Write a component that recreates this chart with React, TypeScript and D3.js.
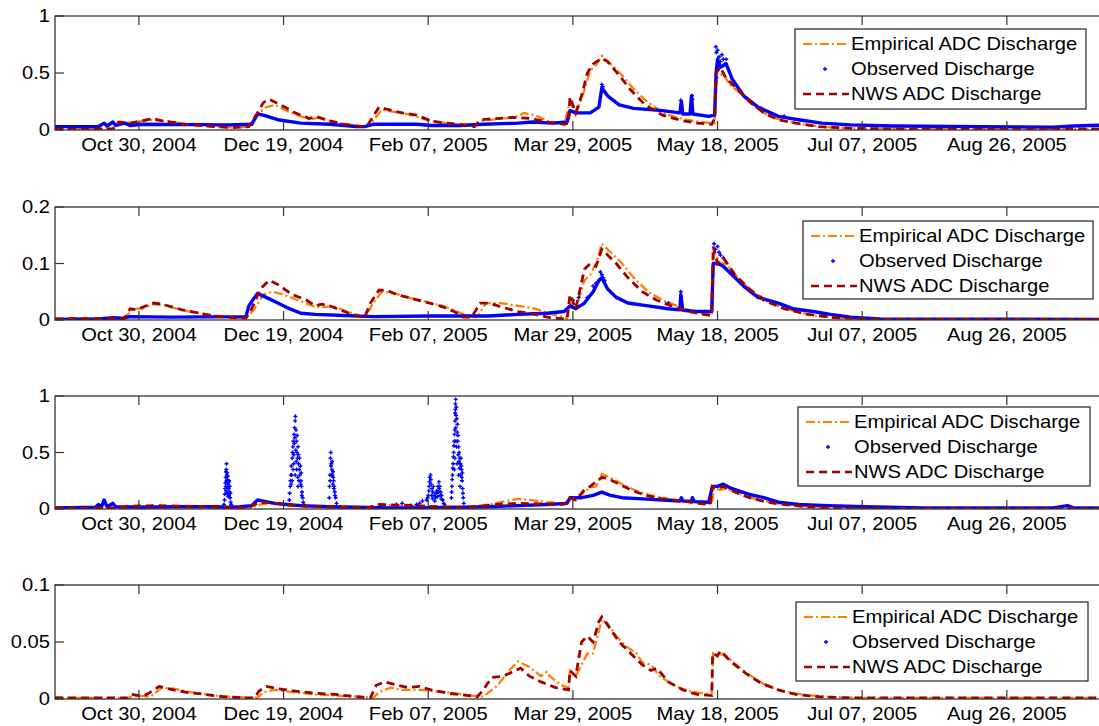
import React from "react";
import * as d3 from "d3";

type Pt = [number, number];

// Day offsets are counted from Oct 1, 2004 (start of the water year).
const START = new Date(2004, 9, 1);
const END = new Date(2005, 9, 1);
const dayToDate = (d: number) => new Date(START.getTime() + d * 864e5);

const tickDates = [
  new Date(2004, 9, 30),
  new Date(2004, 11, 19),
  new Date(2005, 1, 7),
  new Date(2005, 2, 29),
  new Date(2005, 4, 18),
  new Date(2005, 6, 7),
  new Date(2005, 7, 26),
];

const legendLabels = ["Empirical ADC Discharge", "Observed Discharge", "NWS ADC Discharge"];

// ---------- Panel 1 ----------
const yTicks1 = [0, 0.5, 1];
const empirical1: Pt[] = [[0,0.01],[20,0.01],[23,0.06],[28,0.07],[33,0.09],[38,0.08],[46,0.05],[56,0.03],[62,0.02],[67,0.03],[70,0.14],[73,0.2],[76,0.22],[80,0.17],[85,0.12],[88,0.09],[91,0.11],[96,0.07],[101,0.05],[107,0.03],[109,0.05],[113,0.18],[117,0.16],[122,0.14],[127,0.1],[132,0.07],[138,0.05],[145,0.03],[148,0.08],[155,0.1],[160,0.12],[162,0.15],[166,0.13],[170,0.08],[176,0.05],[178,0.25],[180,0.14],[183,0.35],[185,0.52],[187,0.57],[189,0.65],[192,0.58],[196,0.48],[200,0.36],[205,0.24],[211,0.14],[218,0.09],[223,0.07],[228,0.06],[228.7,0.45],[231,0.5],[233,0.4],[237,0.32],[242,0.2],[247,0.12],[252,0.08],[258,0.05],[266,0.025],[280,0.012],[300,0.008],[366,0.008]];
const observed1: Pt[] = [[0,0.03],[15,0.03],[17,0.06],[18,0.035],[20,0.07],[21,0.04],[24,0.06],[26,0.04],[30,0.05],[60,0.045],[68,0.05],[70,0.14],[72,0.13],[77,0.09],[85,0.06],[95,0.05],[100,0.04],[104,0.03],[107,0.03],[110,0.05],[125,0.05],[130,0.04],[140,0.04],[148,0.05],[160,0.06],[165,0.07],[172,0.06],[177,0.07],[178,0.17],[180,0.15],[185,0.15],[188,0.2],[189,0.37],[191,0.3],[195,0.22],[200,0.19],[210,0.17],[216,0.15],[216.5,0.25],[217,0.14],[219.5,0.14],[220,0.3],[220.5,0.14],[226,0.12],[228,0.13],[228.5,0.5],[229,0.62],[230,0.55],[232,0.58],[234,0.45],[238,0.3],[243,0.2],[250,0.12],[257,0.09],[265,0.06],[275,0.045],[290,0.035],[320,0.03],[345,0.025],[352,0.035],[366,0.045]];
const observedDots1: Pt[] = [[228.4,0.73],[228.6,0.68],[229,0.7],[229.5,0.64],[230,0.6],[230.5,0.66],[231,0.62],[231.5,0.58],[232,0.62],[216.3,0.26],[216.4,0.22],[220.2,0.3],[220.3,0.27],[189,0.4],[189.3,0.38],[244,0.19],[252,0.12]];
const nws1: Pt[] = [[0,0.01],[20,0.01],[22,0.07],[26,0.06],[30,0.08],[34,0.1],[37,0.08],[45,0.05],[55,0.03],[61,0.02],[67,0.03],[70,0.15],[72,0.24],[74,0.27],[78,0.22],[83,0.15],[88,0.1],[90,0.12],[95,0.08],[100,0.05],[106,0.03],[108,0.04],[112,0.2],[115,0.18],[120,0.15],[125,0.13],[130,0.08],[135,0.06],[140,0.05],[145,0.03],[147,0.09],[152,0.1],[158,0.11],[165,0.1],[170,0.07],[176,0.05],[177.5,0.06],[178,0.29],[180,0.15],[182,0.3],[184,0.5],[186,0.58],[189,0.63],[191,0.6],[195,0.48],[199,0.35],[204,0.22],[210,0.13],[217,0.08],[222,0.06],[227,0.05],[228,0.1],[228.5,0.5],[230,0.55],[232,0.45],[235,0.38],[240,0.25],[245,0.15],[250,0.09],[256,0.06],[264,0.03],[275,0.015],[290,0.01],[366,0.01]];

// ---------- Panel 2 ----------
const yTicks2 = [0, 0.1, 0.2];
const empirical2: Pt[] = [[0,0.002],[24,0.003],[27,0.02],[30,0.02],[34,0.028],[38,0.026],[45,0.016],[52,0.01],[58,0.006],[66,0.003],[69,0.02],[72,0.045],[75,0.05],[79,0.045],[84,0.035],[89,0.025],[92,0.022],[96,0.025],[101,0.015],[107,0.004],[110,0.03],[113,0.05],[117,0.048],[122,0.04],[128,0.033],[134,0.025],[139,0.015],[143,0.006],[146,0.006],[149,0.03],[154,0.03],[160,0.025],[166,0.02],[172,0.01],[177,0.003],[178,0.03],[180,0.02],[183,0.07],[185,0.08],[187,0.1],[189,0.135],[192,0.12],[196,0.1],[200,0.075],[205,0.05],[210,0.035],[215,0.025],[221,0.015],[227,0.008],[227.8,0.12],[230,0.1],[232,0.1],[236,0.075],[241,0.05],[247,0.03],[254,0.018],[262,0.008],[272,0.003],[290,0.001],[366,0.001]];
const observed2: Pt[] = [[0,0.001],[15,0.002],[20,0.004],[23,0.003],[26,0.006],[40,0.005],[66,0.006],[67,0.025],[69,0.04],[70,0.047],[73,0.04],[77,0.03],[81,0.02],[85,0.012],[90,0.01],[100,0.008],[110,0.006],[130,0.007],[150,0.007],[160,0.01],[170,0.012],[176,0.015],[178,0.025],[180,0.02],[183,0.03],[186,0.05],[188,0.07],[189,0.075],[191,0.055],[194,0.04],[198,0.03],[205,0.025],[212,0.02],[216,0.018],[216.3,0.045],[217,0.017],[222,0.015],[227,0.015],[227.5,0.1],[229,0.1],[231,0.095],[234,0.08],[238,0.06],[243,0.04],[250,0.03],[255,0.02],[262,0.015],[268,0.01],[275,0.005],[285,0.002],[366,0.001]];
const observedDots2: Pt[] = [[188.5,0.085],[189,0.08],[189.5,0.075],[188,0.07],[190,0.07],[227.8,0.135],[228.3,0.125],[229,0.13],[229.5,0.12],[230,0.115],[231,0.11],[216.3,0.05],[216.4,0.042],[212,0.03],[179,0.035],[181,0.04],[184,0.04],[186,0.06],[187,0.065],[244,0.04],[249,0.03]];
const nws2: Pt[] = [[0,0.002],[24,0.003],[26,0.02],[28,0.018],[30,0.022],[34,0.03],[37,0.028],[44,0.018],[50,0.012],[55,0.007],[62,0.004],[66,0.003],[68,0.02],[71,0.055],[74,0.07],[77,0.063],[82,0.045],[87,0.035],[90,0.025],[92,0.028],[95,0.025],[100,0.015],[104,0.008],[107,0.004],[109,0.03],[112,0.053],[115,0.052],[118,0.045],[122,0.04],[127,0.033],[133,0.025],[138,0.015],[141,0.005],[144,0.005],[147,0.03],[150,0.03],[155,0.022],[160,0.015],[166,0.01],[172,0.003],[177,0.002],[178,0.045],[180,0.02],[183,0.09],[185,0.1],[187,0.095],[189,0.125],[191,0.115],[194,0.1],[198,0.075],[203,0.05],[208,0.035],[213,0.025],[219,0.015],[224,0.01],[227,0.008],[227.5,0.13],[229,0.1],[231,0.11],[235,0.08],[240,0.055],[245,0.035],[252,0.02],[260,0.01],[270,0.004],[285,0.001],[366,0.001]];

// ---------- Panel 3 ----------
const yTicks3 = [0, 0.5, 1];
const empirical3: Pt[] = [[0,0.01],[22,0.01],[26,0.02],[35,0.025],[45,0.02],[55,0.015],[62,0.01],[68,0.015],[71,0.04],[74,0.05],[79,0.04],[85,0.025],[92,0.02],[102,0.012],[108,0.01],[113,0.035],[120,0.03],[128,0.025],[135,0.02],[142,0.015],[150,0.04],[156,0.07],[160,0.09],[164,0.08],[170,0.06],[176,0.05],[178,0.09],[180,0.08],[183,0.15],[185,0.19],[187,0.2],[189,0.31],[192,0.28],[196,0.22],[201,0.16],[206,0.12],[212,0.09],[218,0.07],[224,0.05],[227,0.045],[227.7,0.18],[230,0.17],[232,0.18],[236,0.14],[242,0.09],[248,0.055],[255,0.03],[264,0.015],[278,0.006],[366,0.005]];
const observed3: Pt[] = [[0,0.01],[14,0.015],[15,0.04],[16,0.015],[17,0.08],[18,0.02],[20,0.05],[21,0.02],[30,0.015],[40,0.02],[55,0.02],[60,0.015],[64,0.02],[68,0.03],[70,0.08],[72,0.07],[76,0.05],[80,0.04],[85,0.03],[95,0.02],[105,0.015],[115,0.01],[125,0.01],[140,0.015],[150,0.02],[160,0.03],[170,0.04],[177,0.05],[178,0.1],[182,0.1],[186,0.12],[189,0.15],[192,0.12],[196,0.1],[203,0.09],[210,0.08],[216,0.07],[216.5,0.1],[217,0.07],[220,0.07],[220.3,0.1],[221,0.065],[226,0.06],[227.2,0.2],[229,0.2],[231,0.22],[234,0.18],[240,0.13],[245,0.1],[250,0.06],[257,0.04],[267,0.03],[280,0.02],[300,0.01],[345,0.01],[350,0.03],[352,0.01],[366,0.01]];
const observedDots3: Pt[] = [
  [58.4,0.04],[58.6,0.08],[58.7,0.13],[58.8,0.18],[58.9,0.23],[59,0.2],[59,0.28],[59.1,0.16],[59.1,0.33],[59.2,0.35],[59.3,0.4],[59.3,0.25],[59.4,0.3],[59.5,0.32],[59.5,0.14],[59.6,0.26],[59.7,0.19],[59.7,0.29],[59.8,0.22],[59.9,0.11],[60,0.18],[60.1,0.12],[60.1,0.24],[60.2,0.25],[60.3,0.15],[60.4,0.2],[60.5,0.1],[60.6,0.14],[60.7,0.06],[60.9,0.04],
  [81,0.08],[81.1,0.14],[81.3,0.2],[81.4,0.25],[81.5,0.3],[81.6,0.22],[81.7,0.38],[81.8,0.3],[82,0.45],[82,0.25],[82.1,0.5],[82.2,0.55],[82.3,0.35],[82.4,0.6],[82.5,0.4],[82.5,0.48],[82.6,0.66],[82.7,0.58],[82.8,0.72],[82.9,0.63],[83,0.78],[83,0.3],[83.1,0.82],[83.2,0.52],[83.3,0.7],[83.4,0.42],[83.5,0.6],[83.5,0.35],[83.6,0.5],[83.7,0.65],[83.8,0.45],[83.9,0.28],[84,0.55],[84,0.2],[84.1,0.48],[84.2,0.4],[84.3,0.25],[84.4,0.35],[84.5,0.45],[84.6,0.3],[84.8,0.38],[84.9,0.22],[85,0.25],[85.1,0.32],[85.2,0.2],[85.3,0.12],[85.4,0.15],[85.6,0.1],[85.8,0.06],[86,0.04],
  [94.8,0.1],[94.9,0.2],[95,0.3],[95.1,0.25],[95.2,0.45],[95.3,0.5],[95.4,0.38],[95.5,0.4],[95.6,0.3],[95.7,0.35],[95.8,0.42],[95.9,0.3],[96,0.22],[96.1,0.33],[96.2,0.28],[96.3,0.25],[96.4,0.18],[96.5,0.2],[96.7,0.15],[96.8,0.12],[97,0.1],[97.3,0.05],
  [118,0.04],[120,0.05],[123,0.03],[125,0.04],[126,0.05],[127,0.07],[128.5,0.08],[128.8,0.1],[129,0.12],[129.2,0.16],[129.3,0.2],[129.4,0.24],[129.5,0.28],[129.8,0.3],[129.9,0.26],[130,0.22],[130.2,0.12],[130.3,0.18],[130.5,0.09],[130.6,0.15],[130.8,0.2],[131,0.12],[131.3,0.07],[131.5,0.1],[131.7,0.14],[132,0.16],[132.2,0.11],[132.4,0.2],[132.5,0.15],[132.7,0.24],[132.8,0.18],[133,0.2],[133.1,0.12],[133.3,0.15],[133.5,0.09],[133.6,0.12],[134,0.08],[134.3,0.05],[134.6,0.04],
  [137,0.1],[137.1,0.15],[137.2,0.2],[137.3,0.26],[137.4,0.3],[137.5,0.36],[137.6,0.4],[137.7,0.46],[137.8,0.5],[137.9,0.56],[138,0.6],[138,0.35],[138.1,0.66],[138.2,0.7],[138.2,0.45],[138.3,0.85],[138.3,0.78],[138.4,0.93],[138.4,0.88],[138.5,0.97],[138.5,0.72],[138.6,0.6],[138.6,0.83],[138.7,0.9],[138.8,0.55],[138.9,0.8],[139,0.4],[139,0.68],[139.1,0.75],[139.2,0.6],[139.3,0.65],[139.4,0.48],[139.5,0.55],[139.5,0.3],[139.6,0.42],[139.7,0.5],[139.8,0.36],[139.9,0.45],[140,0.2],[140.1,0.4],[140.2,0.3],[140.3,0.45],[140.4,0.38],[140.5,0.35],[140.6,0.28],[140.7,0.25],[140.8,0.32],[140.9,0.18],[141,0.14],[141.1,0.1],[141.3,0.05],
];
const nws3: Pt[] = [[0,0.01],[22,0.01],[25,0.025],[35,0.03],[45,0.025],[55,0.02],[62,0.01],[67,0.015],[70,0.05],[73,0.06],[78,0.045],[83,0.03],[90,0.02],[100,0.015],[108,0.01],[112,0.04],[118,0.035],[125,0.03],[132,0.02],[140,0.01],[146,0.02],[152,0.04],[160,0.05],[168,0.045],[175,0.04],[177.5,0.05],[178,0.1],[180,0.08],[183,0.17],[185,0.2],[187,0.24],[189,0.28],[191,0.27],[195,0.22],[199,0.17],[204,0.12],[210,0.09],[217,0.07],[222,0.05],[226.5,0.04],[227.2,0.2],[229,0.18],[231,0.2],[235,0.15],[240,0.1],[246,0.06],[252,0.04],[260,0.02],[270,0.01],[290,0.005],[366,0.005]];

// ---------- Panel 4 ----------
const yTicks4 = [0, 0.05, 0.1];
const empirical4: Pt[] = [[0,0.001],[25,0.001],[29,0.003],[33,0.002],[37,0.01],[41,0.009],[47,0.006],[55,0.003],[60,0.002],[70,0.001],[72,0.006],[76,0.008],[82,0.006],[90,0.004],[97,0.003],[105,0.002],[110,0.001],[112,0.006],[116,0.01],[120,0.008],[126,0.008],[131,0.007],[138,0.005],[144,0.003],[148,0.002],[150,0.006],[153,0.012],[157,0.025],[160,0.033],[164,0.028],[168,0.02],[170,0.024],[171,0.02],[175,0.012],[177.5,0.01],[178,0.025],[180,0.02],[182,0.03],[184,0.04],[186,0.04],[188,0.06],[189,0.07],[191,0.066],[194,0.055],[198,0.045],[201,0.04],[203,0.032],[206,0.03],[209,0.02],[214,0.012],[219,0.007],[224,0.005],[227,0.004],[227.5,0.04],[229,0.037],[231,0.04],[235,0.031],[240,0.021],[245,0.013],[251,0.007],[258,0.004],[266,0.002],[278,0.001],[366,0.001]];
const observed4: Pt[] = [[0,0.0005],[2.5,0.0005]];
const nws4: Pt[] = [[0,0.001],[25,0.001],[26.5,0.004],[29,0.003],[31,0.003],[33,0.006],[36,0.011],[39,0.009],[45,0.006],[52,0.004],[58,0.002],[65,0.001],[69,0.001],[70.5,0.007],[73,0.011],[77,0.009],[83,0.007],[90,0.005],[97,0.004],[104,0.002],[109,0.001],[111,0.012],[114,0.015],[117,0.013],[122,0.01],[126,0.011],[130,0.008],[136,0.005],[143,0.003],[146,0.002],[148,0.008],[151,0.019],[155,0.02],[159,0.025],[161,0.027],[164,0.02],[168,0.015],[173,0.01],[177.5,0.008],[178,0.025],[180,0.02],[182,0.05],[184,0.055],[186,0.05],[188,0.068],[189,0.072],[191,0.065],[195,0.05],[199,0.04],[203,0.03],[206,0.025],[208,0.027],[212,0.015],[217,0.008],[222,0.004],[227,0.003],[227.3,0.04],[229,0.038],[230,0.042],[234,0.032],[239,0.022],[244,0.014],[250,0.008],[256,0.004],[264,0.002],[275,0.001],[366,0.001]];

interface PanelSpec {
  top: number;
  bottom: number;
  yTicks: number[];
  empirical: Pt[];
  observed: Pt[];
  dots: Pt[];
  nws: Pt[];
  legend: { x: number; y: number; w: number; h: number };
}

const panels: PanelSpec[] = [
  { top: 16, bottom: 130, yTicks: yTicks1, empirical: empirical1, observed: observed1, dots: observedDots1, nws: nws1, legend: { x: 795, y: 29, w: 291, h: 80 } },
  { top: 207, bottom: 320, yTicks: yTicks2, empirical: empirical2, observed: observed2, dots: observedDots2, nws: nws2, legend: { x: 803, y: 221, w: 290, h: 78 } },
  { top: 396, bottom: 509, yTicks: yTicks3, empirical: empirical3, observed: observed3, dots: observedDots3, nws: nws3, legend: { x: 798, y: 407, w: 292, h: 79 } },
  { top: 585, bottom: 699, yTicks: yTicks4, empirical: empirical4, observed: observed4, dots: [], nws: nws4, legend: { x: 796, y: 602, w: 292, h: 79 } },
];

const W = 1099;
const H = 726;
const LEFT = 55;
const RIGHT = 1111;
const FONT = "Arial, 'Liberation Sans', Helvetica, sans-serif";
const FS = 18;
const STRETCH = 1.12;
const ORANGE = "#ff8000";
const RED = "#a00000";
const BLUE = "#0000ff";
const TICK = 9;

const fmt = d3.timeFormat("%b %d, %Y");

const x = d3.scaleTime().domain([START, END]).range([LEFT, RIGHT]);

function Label(props: { x: number; y: number; anchor: string; children: React.ReactNode }) {
  return (
    <text
      transform={`translate(${props.x},${props.y}) scale(${STRETCH},1)`}
      textAnchor={props.anchor as any}
      fontFamily={FONT}
      fontSize={FS}
      fill="#000"
    >
      {props.children}
    </text>
  );
}

function Plus({ cx, cy }: { cx: number; cy: number }) {
  return <path d={`M${cx - 2},${cy}h4M${cx},${cy - 2}v4`} stroke={BLUE} strokeWidth={1.4} />;
}

function Panel({ p, idx }: { p: PanelSpec; idx: number }) {
  const y = d3.scaleLinear().domain([p.yTicks[0], p.yTicks[p.yTicks.length - 1]]).range([p.bottom, p.top]);
  const line = d3
    .line<Pt>()
    .x((d) => x(dayToDate(d[0])))
    .y((d) => y(d[1]));
  const clipId = `clip-${idx}`;
  const L = p.legend;
  const rows = [L.y + 15, L.y + 40, L.y + 65];
  return (
    <g>
      <defs>
        <clipPath id={clipId}>
          <rect x={LEFT} y={p.top - 4} width={RIGHT - LEFT} height={p.bottom - p.top + 4} />
        </clipPath>
      </defs>
      <g clipPath={`url(#${clipId})`}>
        <path d={line(p.empirical) || ""} fill="none" stroke={ORANGE} strokeWidth={2.3} strokeDasharray="9,3,2,3" />
        <path d={line(p.observed) || ""} fill="none" stroke={BLUE} strokeWidth={3.4} strokeLinejoin="round" />
        {p.dots.map((d, i) => (
          <Plus key={i} cx={x(dayToDate(d[0]))} cy={y(d[1])} />
        ))}
        <path d={line(p.nws) || ""} fill="none" stroke={RED} strokeWidth={2.8} strokeDasharray="8,5" />
      </g>
      {/* axes box */}
      <rect x={LEFT} y={p.top} width={RIGHT - LEFT} height={p.bottom - p.top} fill="none" stroke="#333" strokeWidth={1.3} />
      {tickDates.map((t, i) => {
        const tx = x(t);
        return (
          <g key={i}>
            <line x1={tx} x2={tx} y1={p.bottom} y2={p.bottom - TICK} stroke="#333" strokeWidth={1.2} />
            <line x1={tx} x2={tx} y1={p.top} y2={p.top + TICK} stroke="#333" strokeWidth={1.2} />
            <Label x={tx} y={p.bottom + 21} anchor="middle">
              {fmt(t)}
            </Label>
          </g>
        );
      })}
      {p.yTicks.map((v, i) => (
        <g key={i}>
          <line x1={LEFT} x2={LEFT + TICK} y1={y(v)} y2={y(v)} stroke="#333" strokeWidth={1.2} />
          <Label x={LEFT - 5} y={y(v) + 6} anchor="end">
            {String(v)}
          </Label>
        </g>
      ))}
      {/* legend */}
      <rect x={L.x} y={L.y} width={L.w} height={L.h} fill="#fff" stroke="#222" strokeWidth={1.2} />
      <line x1={L.x + 8} x2={L.x + 52} y1={rows[0]} y2={rows[0]} stroke={ORANGE} strokeWidth={2} strokeDasharray="9,3,2,3" />
      <Plus cx={L.x + 30} cy={rows[1]} />
      <line x1={L.x + 8} x2={L.x + 54} y1={rows[2]} y2={rows[2]} stroke={RED} strokeWidth={2.4} strokeDasharray="8,5" />
      {legendLabels.map((s, i) => (
        <Label key={i} x={L.x + 56} y={rows[i] + 6} anchor="start">
          {s}
        </Label>
      ))}
    </g>
  );
}

export default function App() {
  return (
    <svg
      width={W}
      height={H}
      viewBox={`0 0 ${W} ${H}`}
      style={{ position: "absolute", left: 0, top: 0, background: "#fff" }}
    >
      <rect x={0} y={0} width={W} height={H} fill="#fff" />
      {panels.map((p, i) => (
        <Panel key={i} p={p} idx={i} />
      ))}
    </svg>
  );
}
